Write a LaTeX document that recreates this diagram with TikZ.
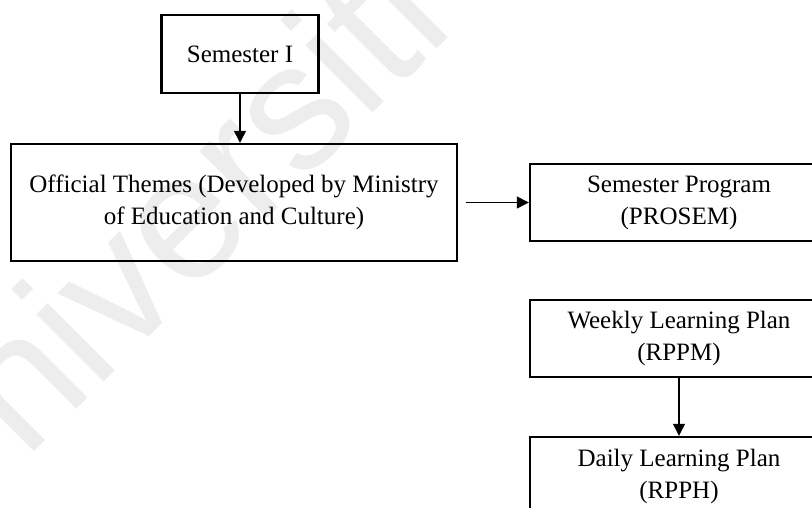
\documentclass[tikz,border=0pt]{standalone}
\usepackage{fontspec}
\setmainfont{Liberation Serif}
\newfontfamily\markfont{Liberation Sans}
\usetikzlibrary{arrows.meta}

\begin{document}
\begin{tikzpicture}[x=1pt, y=-1pt,
  box/.style={draw=black, line width=2.4pt, inner sep=0pt, align=center,
              font=\fontsize{25}{32}\selectfont},
  link/.style={draw=black, line width=1.3pt,
               -{Triangle[length=12pt, width=12pt]}}]
  % page frame
  \useasboundingbox (0,0) rectangle (812,508);
  \fill[white] (0,0) rectangle (812,508);

  % faint background watermark
  \node[text=black!7, font=\markfont\fontsize{180}{180}\selectfont,
        rotate=45, anchor=base, inner sep=0pt] (mark) at (195,291) {Universiti};

  % boxes
  \node[box, minimum width=157pt, minimum height=78pt] (sem) at (240,54) {Semester I};
  \node[box, minimum width=446pt, minimum height=117pt] (themes) at (234,202.5)
        {Official Themes (Developed by Ministry\\of Education and Culture)};
  \node[box, minimum width=298pt, minimum height=77pt] (prosem) at (679,202.5)
        {Semester Program\\(PROSEM)};
  \node[box, minimum width=298pt, minimum height=77pt] (weekly) at (679,338.5)
        {Weekly Learning Plan\\(RPPM)};
  \node[box, minimum width=298pt, minimum height=78pt] (daily) at (679,476)
        {Daily Learning Plan\\(RPPH)};

  % connectors
  \draw[link] (sem.south) -- (sem.south |- themes.north);
  \draw[link, shorten <=8pt] (themes.east) -- (prosem.west);
  \draw[link] (weekly.south) -- (daily.north);
\end{tikzpicture}
\end{document}
